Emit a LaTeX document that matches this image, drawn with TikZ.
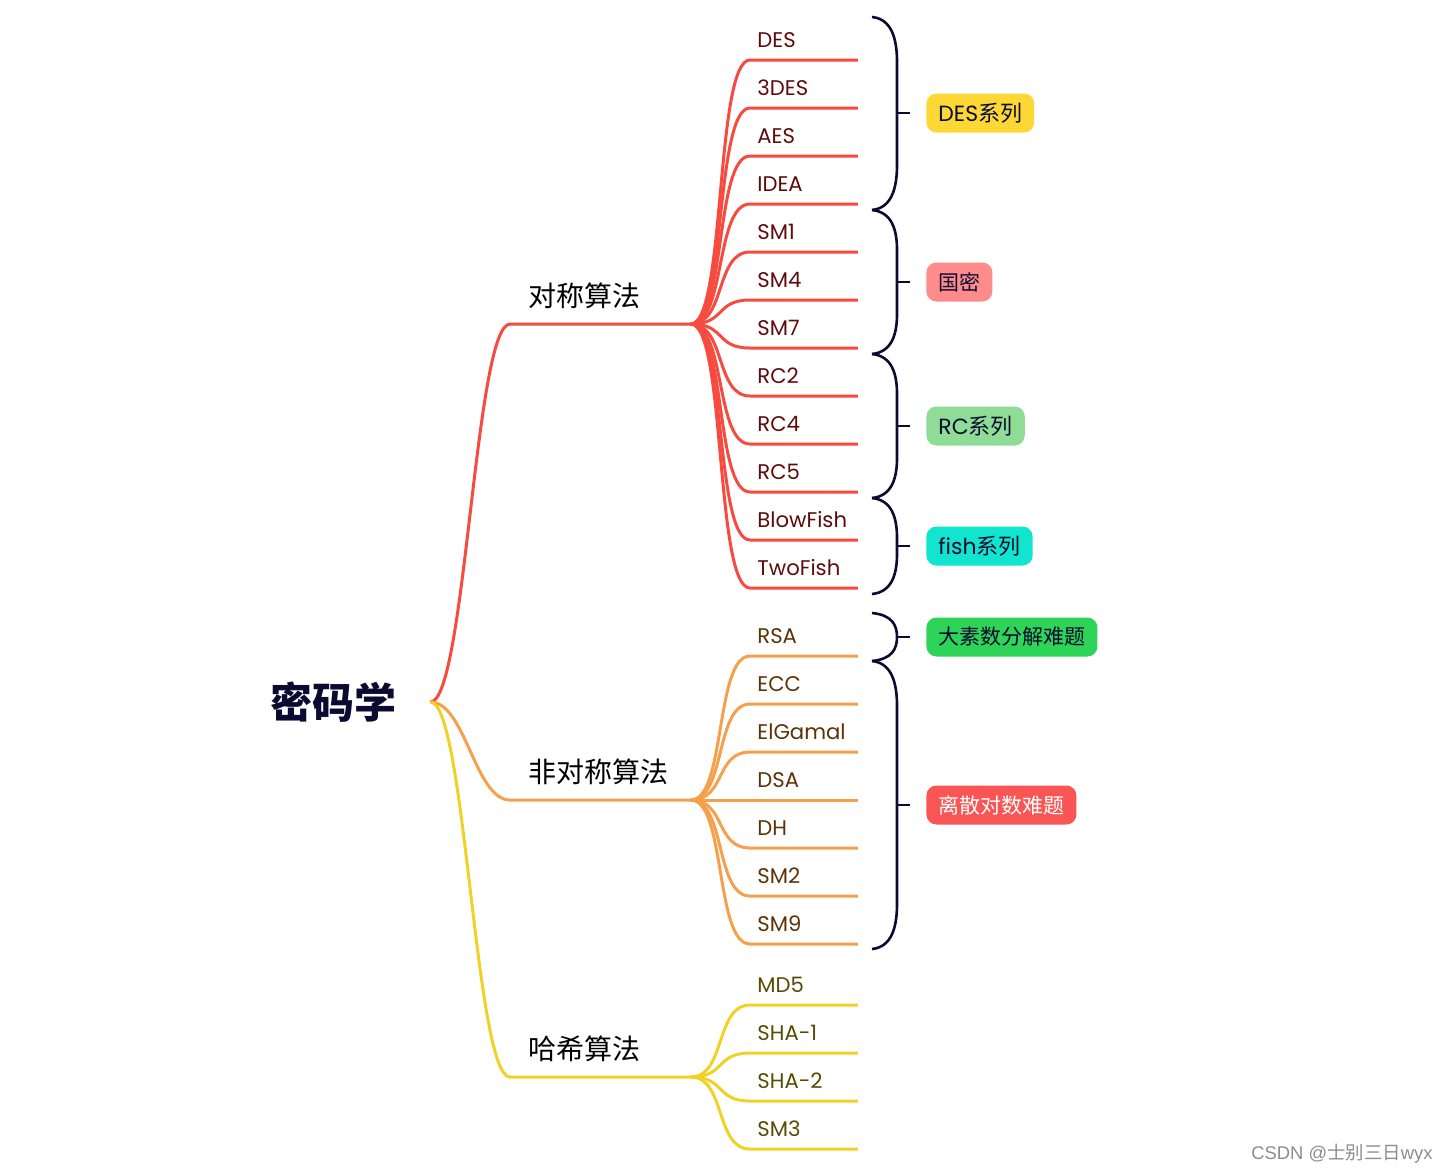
\documentclass[tikz,border=0pt]{standalone}
\usepackage{fontspec}
\usepackage{xcolor}
\usepackage{tikz}
\usetikzlibrary{positioning}
\setmainfont{Poppins}
\newfontfamily\cjk{Noto Sans CJK SC}
\newfontfamily\wmfont{Liberation Sans}
\definecolor{Navy}{HTML}{0B0B32}
\definecolor{SymRed}{HTML}{F84B40}
\definecolor{AsymOrange}{HTML}{F6A04C}
\definecolor{HashYellow}{HTML}{F2D127}
\definecolor{SymText}{HTML}{5E0B0B}
\definecolor{AsymText}{HTML}{5C3206}
\definecolor{HashText}{HTML}{574B06}
\definecolor{TagDes}{HTML}{FDD835}
\definecolor{TagGm}{HTML}{FF8C8A}
\definecolor{TagRc}{HTML}{8EDC95}
\definecolor{TagFish}{HTML}{12E5CF}
\definecolor{TagPrime}{HTML}{2ED457}
\definecolor{TagLog}{HTML}{F95555}

\begin{document}
\begin{tikzpicture}[
  x=0.5pt, y=-0.5pt,
  leaf/.style={anchor=south west,inner xsep=3.5pt,inner ysep=6pt,text width=46.5pt,align=left,text depth=0pt,font=\fontsize{10.6}{12}\selectfont},
  cat/.style={anchor=south west,inner xsep=9pt,inner ysep=8.5pt,text width=72pt,align=left,text depth=0pt,font=\cjk\fontsize{14}{16}\selectfont},
  tag/.style={anchor=west,rounded corners=5pt,inner xsep=6pt,minimum height=19.5pt,text=Navy,font=\fontsize{11}{13}\selectfont},
  zhtag/.style={tag,font=\cjk\fontsize{10.5}{13}\selectfont},
  branch/.style={line width=1.5pt},
  brace/.style={line width=1.3pt,draw=Navy}
]
  \useasboundingbox (0,0) rectangle (1449,1174);

  % root and the three families
  \node[font=\cjk\bfseries\fontsize{21}{24}\selectfont,text=Navy,inner xsep=17pt] (root) at (333,702) {密码学};
  \node[cat] (sym) at (510,324) {对称算法};
  \node[cat] (asym) at (510,800) {非对称算法};
  \node[cat] (hash) at (510,1077) {哈希算法};

  \draw[branch,SymRed] (root.east) .. controls +(35,0) and +(-35,0) .. (sym.south west) -- (sym.south east);
  \draw[branch,AsymOrange] (root.east) .. controls +(35,0) and +(-35,0) .. (asym.south west) -- (asym.south east);
  \draw[branch,HashYellow] (root.east) .. controls +(35,0) and +(-35,0) .. (hash.south west) -- (hash.south east);

  % leaves
  \foreach \name [count=\i] in {DES,3DES,AES,IDEA,SM1,SM4,SM7,RC2,RC4,RC5,BlowFish,TwoFish} {
    \node[leaf,text=SymText] (s\i) at (750,12+48*\i) {\name};
    \draw[branch,SymRed] (sym.south east) .. controls +(35,0) and +(-35,0) .. (s\i.south west) -- (s\i.south east);
  }
  \foreach \name [count=\i] in {RSA,ECC,ElGamal,DSA,DH,SM2,SM9} {
    \node[leaf,text=AsymText] (a\i) at (750,608+48*\i) {\name};
    \draw[branch,AsymOrange] (asym.south east) .. controls +(35,0) and +(-35,0) .. (a\i.south west) -- (a\i.south east);
  }
  \foreach \name [count=\i] in {MD5,SHA-1,SHA-2,SM3} {
    \node[leaf,text=HashText] (h\i) at (750,957+48*\i) {\name};
    \draw[branch,HashYellow] (hash.south east) .. controls +(35,0) and +(-35,0) .. (h\i.south west) -- (h\i.south east);
  }

  % braces
  \foreach \t/\m/\b/\r [count=\i] in {17/113/210/45,210/282/354/40,354/426/498/40,498/546/594/40,613/637/661/24,661/805/949/45} {
    \draw[brace] (872,\t) .. controls (892,\t+2) and (897,\t+0.5*\r) .. (897,\t+\r)
      -- (897,\b-\r) .. controls (897,\b-0.5*\r) and (892,\b-2) .. (872,\b);
    \coordinate (k\i) at (897,\m);
    \draw[brace] (k\i) -- ++(13,0);
  }

  % tags
  \node[tag,fill=TagDes] (des) at (926,113) {DES{\cjk 系列}};
  \node[zhtag,fill=TagGm] (gm) at (926,282) {国密};
  \node[tag,fill=TagRc] (rc) at (926,426) {RC{\cjk 系列}};
  \node[tag,fill=TagFish] (fish) at (926,546) {fish{\cjk 系列}};
  \node[zhtag,fill=TagPrime] (prime) at (926,637) {大素数分解难题};
  \node[zhtag,fill=TagLog,text=white] (dlog) at (926,805) {离散对数难题};

  \node[anchor=east,inner sep=0pt,text=black!45,font=\wmfont\fontsize{9.2}{11}\selectfont] (mark) at (1433,1154) {CSDN @{\cjk 士别三日}wyx};
\end{tikzpicture}
\end{document}
